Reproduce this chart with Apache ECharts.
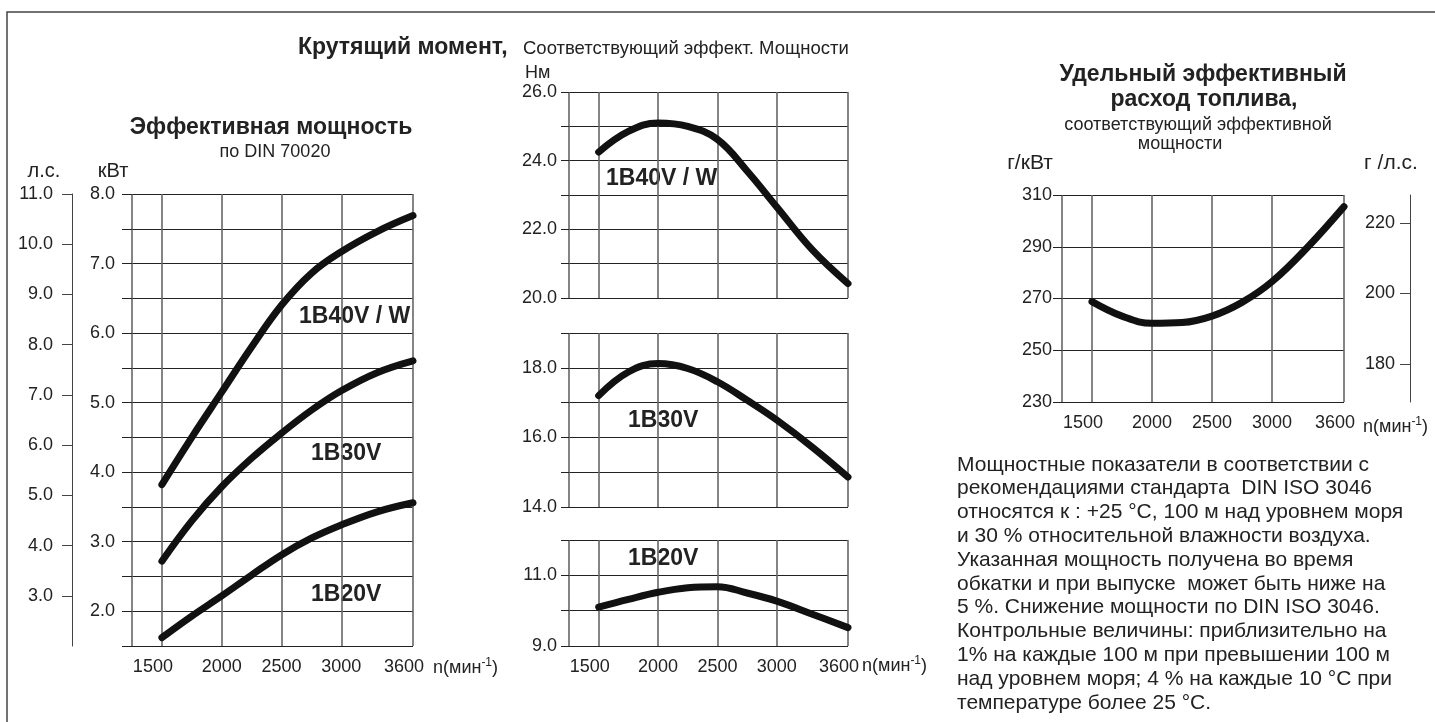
<!DOCTYPE html>
<html><head><meta charset="utf-8">
<script src="https://cdn.jsdelivr.net/npm/echarts@6.0.0/dist/echarts.min.js"></script>
<style>html,body{margin:0;padding:0;background:#fff}#c{width:1435px;height:722px}</style>
</head><body><div id="c"></div>
<script>
// ---- data ----
const rpm = [1500, 1750, 2000, 2250, 2500, 2750, 3000, 3300, 3600];
const rpmTicks = [1500, 2000, 2500, 3000, 3600];
const rpmGrid = [1250, 1500, 2000, 2500, 3000, 3600];

// effective power, kW
const power40 = [3.82, 4.50, 5.15, 5.80, 6.40, 6.86, 7.17, 7.46, 7.69];
const power30 = [2.72, 3.30, 3.79, 4.20, 4.56, 4.89, 5.17, 5.43, 5.60];
const power20 = [1.62, 1.93, 2.22, 2.52, 2.81, 3.05, 3.24, 3.43, 3.56];
const kwTicks = [2, 3, 4, 5, 6, 7, 8];
const hpTicks = [3, 4, 5, 6, 7, 8, 9, 10, 11];

// torque, Nm
const torque40 = [24.25, 24.85, 25.10, 25.00, 24.62, 23.70, 22.65, 21.40, 20.42];
const torque30 = [17.20, 17.88, 18.12, 17.98, 17.60, 17.07, 16.50, 15.72, 14.86];
const torque20 = [10.10, 10.32, 10.52, 10.65, 10.68, 10.50, 10.27, 9.90, 9.52];
const torque40Ticks = [20, 22, 24, 26];
const torque30Ticks = [14, 16, 18];
const torque20Ticks = [9, 11];

// specific fuel consumption, g/kWh
const fuel = [268.8, 263.2, 260.4, 260.7, 263.2, 268.5, 276.5, 290.0, 305.5];
const fuelHpTicks = [180, 200, 220];
const KW_TO_HP = 0.7355;

const noteLines = [
  'Мощностные показатели в соответствии с',
  'рекомендациями стандарта  DIN ISO 3046',
  'относятся к : +25 °C, 100 м над уровнем моря',
  'и 30 % относительной влажности воздуха.',
  'Указанная мощность получена во время',
  'обкатки и при выпуске  может быть ниже на',
  '5 %. Снижение мощности по DIN ISO 3046.',
  'Контрольные величины: приблизительно на',
  '1% на каждые 100 м при превышении 100 м',
  'над уровнем моря; 4 % на каждые 10 °C при',
  'температуре более 25 °C.'
];

// ---- chart ----
const F = '"Liberation Sans", Arial, Helvetica, sans-serif';
const TXT = '#222';
const pairs = (ys) => rpm.map((x, i) => [x, ys[i]]);

function xAx(gi, labels) {
  return {
    type: 'value', gridIndex: gi, min: 1250, max: 3600,
    axisLine: { show: false },
    axisTick: { show: false, customValues: rpmGrid },
    splitLine: { show: true, lineStyle: { color: '#666', width: 1.6 } },
    axisLabel: { show: labels, customValues: rpmTicks, margin: 12, fontSize: 18, color: TXT, fontFamily: F,
      formatter: v => (v === rpmTicks[0] || v === rpmTicks[rpmTicks.length - 1]) ? '{s|' + v + '}' : String(v),
      rich: { s: { padding: [0, 18, 0, 0], fontSize: 18, fontFamily: F, color: TXT } } }
  };
}
function yAx(gi, min, max, interval, labelVals, tickLen, margin) {
  return {
    type: 'value', gridIndex: gi, min: min, max: max, interval: interval,
    axisLine: { show: false },
    axisTick: { show: true, length: tickLen, lineStyle: { color: '#222', width: 1 } },
    splitLine: { show: true, lineStyle: { color: '#222', width: 1 } },
    axisLabel: { customValues: labelVals, margin: margin, fontSize: 18, color: TXT, fontFamily: F,
      formatter: v => (Math.abs(v) >= 100 ? String(v) : v.toFixed(1)) }
  };
}
function curve(xi, yi, ys) {
  return {
    type: 'line', xAxisIndex: xi, yAxisIndex: yi, data: pairs(ys), smooth: 0.4,
    symbol: 'none', silent: true,
    lineStyle: { width: 7, color: '#111', cap: 'round', join: 'round' }
  };
}
function txt(x, y, text, size, bold, align) {
  return { type: 'text', x: x, y: y, silent: true,
    style: { text: text, fill: TXT, font: (bold ? 'bold ' : '') + size + 'px ' + F,
      align: align || 'left', verticalAlign: 'middle' } };
}
function unitTxt(x, y) {
  return { type: 'text', x: x, y: y, silent: true,
    style: { text: '{a|n(мин}{b|-1}{a|)}', fill: TXT, align: 'left', verticalAlign: 'middle',
      rich: { a: { fontSize: 18, fontFamily: F, color: TXT, lineHeight: 22 },
              b: { fontSize: 12, fontFamily: F, color: TXT, verticalAlign: 'top', lineHeight: 22 } } } };
}

const chart = echarts.init(document.getElementById('c'), null, { renderer: 'canvas' });
chart.setOption({
  animation: false,
  backgroundColor: '#fff',
  textStyle: { fontFamily: F },
  grid: [
    { left: 132, top: 194, width: 281, height: 452 },
    { left: 569, top: 92, width: 279, height: 206 },
    { left: 569, top: 333, width: 279, height: 174 },
    { left: 569, top: 540, width: 279, height: 106 },
    { left: 1062, top: 195, width: 282, height: 207 }
  ],
  xAxis: [xAx(0, true), xAx(1, false), xAx(2, false), xAx(3, true), xAx(4, true)],
  yAxis: [
    yAx(0, 1.5, 8, 0.5, kwTicks, 10, 17),
    { type: 'value', gridIndex: 0, position: 'left', offset: 60, min: 2, max: 11, interval: 1,
      axisLine: { show: true, lineStyle: { color: '#444', width: 1 } },
      axisTick: { show: true, length: 10, customValues: hpTicks, lineStyle: { color: '#444' } },
      splitLine: { show: false },
      axisLabel: { customValues: hpTicks, margin: 19, fontSize: 18, color: TXT, fontFamily: F, formatter: v => v.toFixed(1) } },
    yAx(1, 20, 26, 1, torque40Ticks, 8, 12),
    yAx(2, 14, 19, 1, torque30Ticks, 8, 12),
    yAx(3, 9, 12, 1, torque20Ticks, 8, 12),
    yAx(4, 230, 310, 20, null, 9, 10),
    { type: 'value', gridIndex: 4, position: 'right', offset: 66, min: 230 * KW_TO_HP, max: 310 * KW_TO_HP,
      axisLine: { show: true, lineStyle: { color: '#444', width: 1 } },
      axisTick: { show: true, inside: true, length: 10, customValues: fuelHpTicks, lineStyle: { color: '#444' } },
      splitLine: { show: false },
      axisLabel: { inside: true, customValues: fuelHpTicks, margin: 15, fontSize: 18, color: TXT, fontFamily: F } }
  ],
  series: [
    curve(0, 0, power40), curve(0, 0, power30), curve(0, 0, power20),
    curve(1, 2, torque40), curve(2, 3, torque30), curve(3, 4, torque20),
    curve(4, 5, fuel)
  ],
  graphic: [
    { type: 'polyline', silent: true, shape: { points: [[7, 722], [7, 12], [1435, 12]] },
      style: { stroke: '#444', lineWidth: 1.5, fill: null } },
    txt(298, 48, 'Крутящий момент,', 23, true),
    txt(523, 49, 'Соответствующий эффект. Мощности', 18.5, false),
    txt(525, 73, 'Нм', 18, false),
    txt(271, 128, 'Эффективная мощность', 23, true, 'center'),
    txt(275, 152, 'по DIN 70020', 18, false, 'center'),
    txt(44, 171, 'л.с.', 20, false, 'center'),
    txt(113, 171, 'кВт', 20, false, 'center'),
    txt(299, 317, '1B40V / W', 23, true),
    txt(311, 454, '1B30V', 23, true),
    txt(311, 595, '1B20V', 23, true),
    txt(606, 179, '1B40V / W', 23, true),
    txt(628, 421, '1B30V', 23, true),
    txt(628, 559, '1B20V', 23, true),
    unitTxt(433, 668), unitTxt(862, 666), unitTxt(1363, 427),
    txt(1203, 75, 'Удельный эффективный', 23, true, 'center'),
    txt(1204, 100, 'расход топлива,', 23, true, 'center'),
    txt(1198, 125, 'соответствующий эффективной', 18, false, 'center'),
    txt(1180, 144, 'мощности', 18, false, 'center'),
    txt(1030, 163, 'г/кВт', 21, false, 'center'),
    txt(1391, 163, 'г /л.с.', 21, false, 'center'),
    { type: 'text', x: 957, y: 453, silent: true,
      style: { text: noteLines.join('\n'), fill: TXT, font: '21px ' + F, lineHeight: 23.8,
        align: 'left', verticalAlign: 'top' } }
  ]
});
</script></body></html>
